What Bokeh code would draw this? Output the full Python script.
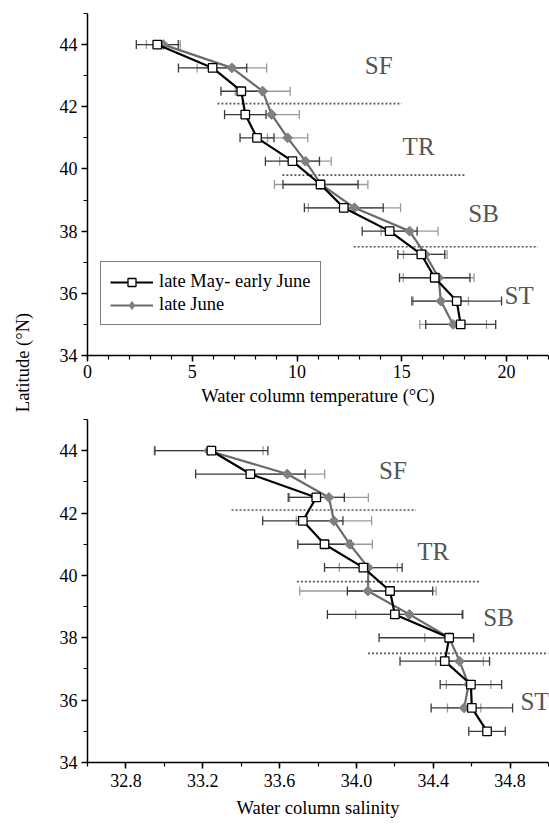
from math import pi
from bokeh.plotting import figure
from bokeh.models import (ColumnDataSource, Whisker, TeeHead, Legend, LegendItem,
                          FixedTicker, PrintfTickFormatter, Label, Range1d)
from bokeh.layouts import row, column
from bokeh.core.properties import value
from bokeh.embed import file_html
from bokeh.resources import INLINE

# ---------------- data ----------------
lat = [44, 43.25, 42.5, 41.75, 41, 40.25, 39.5, 38.75, 38, 37.25, 36.5, 35.75, 35]
lat_june_sal = lat[:12]

temp_may = [3.33, 5.97, 7.34, 7.53, 8.09, 9.78, 11.12, 12.23, 14.42, 15.93, 16.57, 17.62, 17.81]
temp_may_err_lo = [1.0, 1.63, 0.97, 0.99, 0.81, 1.29, 1.79, 1.88, 1.31, 1.12, 1.68, 2.14, 1.67]
temp_may_err_hi = [1.0, 1.63, 0.97, 0.99, 0.81, 1.29, 1.79, 1.88, 1.31, 1.12, 1.68, 2.14, 1.67]
temp_june = [3.62, 6.89, 8.36, 8.79, 9.55, 10.4, 11.15, 12.74, 15.37, 16.12, 16.76, 16.86, 17.45]
temp_june_err = [0.81, 1.66, 1.31, 1.32, 0.96, 1.23, 2.23, 2.2, 1.36, 1.04, 1.69, 1.32, 1.59]

sal_may = [33.245, 33.448, 33.791, 33.721, 33.834, 34.036, 34.175, 34.200, 34.483, 34.460, 34.596, 34.601, 34.680]
sal_may_err_lo = [0.294, 0.285, 0.146, 0.209, 0.139, 0.202, 0.222, 0.351, 0.365, 0.233, 0.160, 0.212, 0.095]
sal_may_err_hi = [0.294, 0.285, 0.146, 0.209, 0.139, 0.202, 0.222, 0.351, 0.127, 0.233, 0.160, 0.212, 0.095]
sal_june = [33.231, 33.640, 33.857, 33.883, 33.965, 34.062, 34.06, 34.276, 34.483, 34.537, 34.584, 34.561]
sal_june_err = [0.283, 0.195, 0.205, 0.196, 0.118, 0.151, 0.355, 0.280, 0.127, 0.124, 0.116, 0.087]

zone_names = ["SF", "TR", "SB", "ST"]
zone_lat_t = [43.33, 40.73, 38.58, 35.94]
zone_x_t = [13.9, 15.8, 18.9, 20.6]
zone_lat_s = [43.37, 40.76, 38.64, 35.97]
zone_x_s = [34.19, 34.40, 34.74, 34.93]

bound_lat = [42.1, 39.8, 37.5]
bound_t_start = [6.2, 9.3, 12.7]
bound_t_end = [15.0, 18.0, 21.5]
bound_s_start = [33.35, 33.69, 34.06]
bound_s_end = [34.31, 34.64, 35.0]

temp_ticks = [0, 5, 10, 15, 20]
temp_minor = list(range(0, 23))
sal_ticks = [32.8, 33.2, 33.6, 34.0, 34.4, 34.8]
sal_minor = [32.6, 32.8, 33.0, 33.2, 33.4, 33.6, 33.8, 34.0, 34.2, 34.4, 34.6, 34.8, 35.0]
lat_ticks = [34, 36, 38, 40, 42, 44]
lat_minor = list(range(34, 46))

FONT = "Liberation Serif"
BLACK = "#000000"
GREY_LINE = "#6b6b6b"
GREY_FILL = "#808080"
ERR_DARK = "#3a3a3a"
ERR_LIGHT = "#9a9a9a"
ZONE_COL = "#555555"


def panel(xr, xticks, xminor, height, top, bottom, xlabel, xfmt=None,
          may_x=None, may_lo=None, may_hi=None, june_x=None, june_err=None, june_lat=None,
          zx=None, zl=None, bs=None, be=None, tick_standoff=3, label_standoff=5):
    p = figure(width=514, height=height, x_range=Range1d(*xr), y_range=Range1d(34, 45),
               output_backend="svg", toolbar_location=None,
               min_border_left=52, min_border_right=1, min_border_top=top,
               min_border_bottom=bottom)
    p.outline_line_color = None
    p.xgrid.visible = False
    p.ygrid.visible = False
    p.background_fill_color = "white"
    p.border_fill_color = "white"

    for ax, tk, mn in ((p.xaxis[0], xticks, xminor), (p.yaxis[0], lat_ticks, lat_minor)):
        ax.ticker = FixedTicker(ticks=tk, minor_ticks=mn)
        ax.axis_line_color = "black"
        ax.axis_line_width = 1.5
        ax.major_tick_line_color = "black"
        ax.major_tick_line_width = 1.5
        ax.minor_tick_line_color = "black"
        ax.minor_tick_line_width = 1.2
        ax.major_tick_in = 0
        ax.major_tick_out = 6
        ax.minor_tick_in = 0
        ax.minor_tick_out = 4
        ax.major_label_text_font = FONT
        ax.major_label_text_font_size = "18px"
        ax.major_label_text_color = "black"
        ax.axis_label_text_font = FONT
        ax.axis_label_text_font_size = "18.5px"
        ax.axis_label_text_font_style = "normal"
        ax.axis_label_text_color = "black"
    p.xaxis.axis_label = xlabel
    p.xaxis.major_label_standoff = tick_standoff
    p.xaxis.axis_label_standoff = label_standoff
    p.yaxis.major_label_standoff = 4
    if xfmt:
        p.xaxis.formatter = PrintfTickFormatter(format=xfmt)

    # zone boundaries
    p.segment(x0=bs, x1=be, y0=bound_lat, y1=bound_lat, line_color=ZONE_COL,
              line_width=1.6, line_dash="2 2")
    # zone labels
    p.text(x=zx, y=zl, text=zone_names, text_font=value(FONT), text_font_size="25px",
           text_color=ZONE_COL, text_align="center", text_baseline="middle")

    # error bars
    src_m = ColumnDataSource(dict(base=lat, lower=[m - s for m, s in zip(may_x, may_lo)],
                                  upper=[m + s for m, s in zip(may_x, may_hi)]))
    src_j = ColumnDataSource(dict(base=june_lat, lower=[m - s for m, s in zip(june_x, june_err)],
                                  upper=[m + s for m, s in zip(june_x, june_err)]))
    for src, col in ((src_j, ERR_LIGHT), (src_m, ERR_DARK)):
        w = Whisker(source=src, base="base", lower="lower", upper="upper",
                    dimension="width", line_color=col, line_width=1.3,
                    upper_head=TeeHead(size=9, line_color=col, line_width=1.3),
                    lower_head=TeeHead(size=9, line_color=col, line_width=1.3))
        p.add_layout(w)

    lj = p.line(june_x, june_lat, line_color=GREY_LINE, line_width=2.2)
    p.scatter(june_x, june_lat, marker="square", angle=pi / 4, size=7,
              fill_color=GREY_FILL, line_color=GREY_FILL)
    # legend-only glyph (diamond shape for the key)
    sj = p.scatter(june_x, june_lat, marker="diamond", size=13,
                   fill_color=GREY_FILL, line_color=GREY_FILL, visible=False)
    lm = p.line(may_x, lat, line_color=BLACK, line_width=2.2)
    sm = p.scatter(may_x, lat, marker="square", size=8.5, fill_color="white",
                   line_color=BLACK, line_width=1.3)
    return p, (lm, sm), (lj, sj)


p1, may_r, june_r = panel((0, 22), temp_ticks, temp_minor, 412, 13, 57,
                          "Water column temperature (°C)",
                          may_x=temp_may, may_lo=temp_may_err_lo, may_hi=temp_may_err_hi,
                          june_x=temp_june, june_err=temp_june_err, june_lat=lat,
                          zx=zone_x_t, zl=zone_lat_t, bs=bound_t_start, be=bound_t_end)

legend = Legend(items=[LegendItem(label="late May- early June", renderers=list(may_r)),
                       LegendItem(label="late June", renderers=list(june_r))],
                location=(13, 30))
legend.border_line_color = "black"
legend.border_line_width = 1.5
legend.label_text_font = FONT
legend.label_text_font_size = "18.5px"
legend.label_text_color = "black"
legend.glyph_width = 43
legend.glyph_height = 20
legend.label_standoff = 6
legend.padding = 9
legend.spacing = 2
legend.margin = 0
legend.label_height = 20
p1.add_layout(legend)

p2, _, _ = panel((32.6, 35.0), sal_ticks, sal_minor, 412, 7, 62,
                 "Water column salinity", xfmt="%.1f",
                 may_x=sal_may, may_lo=sal_may_err_lo, may_hi=sal_may_err_hi,
                 june_x=sal_june, june_err=sal_june_err, june_lat=lat_june_sal,
                 zx=zone_x_s, zl=zone_lat_s, bs=bound_s_start, be=bound_s_end,
                 tick_standoff=5, label_standoff=8)

# shared y-axis title strip
strip = figure(width=35, height=824, x_range=Range1d(0, 35), y_range=Range1d(0, 824),
               output_backend="svg", toolbar_location=None,
               min_border=0)
strip.axis.visible = False
strip.grid.visible = False
strip.outline_line_color = None
strip.add_layout(Label(x=22, y=824 - 362, x_units="screen", y_units="screen",
                       text="Latitude (°N)", angle=pi / 2, text_font=FONT,
                       text_font_size="18.5px", text_color="black",
                       text_align="center", text_baseline="middle"))

layout = row(strip, column(p1, p2))
open("out.html", "w").write(file_html(layout, INLINE))
